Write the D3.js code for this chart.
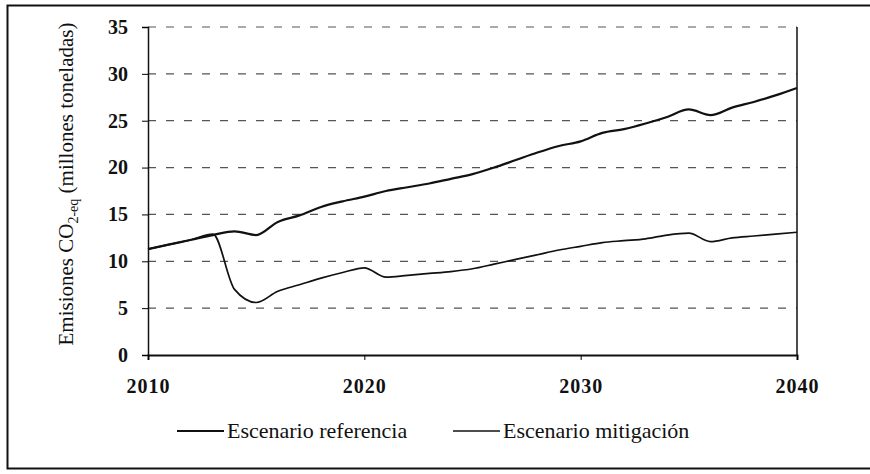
<!DOCTYPE html>
<html>
<head>
<meta charset="utf-8">
<script src="https://cdn.jsdelivr.net/npm/d3@7"></script>
<style>
  body { margin: 0; background: #fff; }
  svg text { font-family: "Liberation Serif", "DejaVu Serif", serif; fill: #111; }
</style>
</head>
<body>
<svg id="chart"></svg>
<script>
const years = d3.range(2010, 2041);
const referencia = [11.3, 11.8, 12.3, 12.8, 13.2, 12.8, 14.2, 14.9, 15.8, 16.4, 16.9,
  17.5, 17.9, 18.3, 18.8, 19.3, 20.0, 20.8, 21.6, 22.3, 22.8,
  23.7, 24.1, 24.7, 25.4, 26.2, 25.6, 26.4, 27.0, 27.7, 28.5];
const mitigacion = [11.3, 11.8, 12.3, 12.9, 7.0, 5.6, 6.8, 7.5, 8.2, 8.8, 9.3,
  8.3, 8.5, 8.7, 8.9, 9.2, 9.7, 10.2, 10.7, 11.2, 11.6,
  12.0, 12.2, 12.4, 12.8, 13.0, 12.1, 12.5, 12.7, 12.9, 13.1];
const yTicks = [0, 5, 10, 15, 20, 25, 30, 35];
const xTicks = [2010, 2020, 2030, 2040];
const legendLabels = ['Escenario referencia', 'Escenario mitigación'];

const width = 870, height = 474;
const svg = d3.select('#chart').attr('width', width).attr('height', height);

// outer frame
svg.append('rect')
  .attr('x', 7.5).attr('y', 5.5)
  .attr('width', 870).attr('height', 463)
  .attr('fill', 'none').attr('stroke', '#111').attr('stroke-width', 2);

const x = d3.scaleLinear().domain([2010, 2040]).range([148, 797]);
const y = d3.scaleLinear().domain([0, 35]).range([355, 27]);

// gridlines
svg.append('g')
  .selectAll('line')
  .data(yTicks.filter(d => d > 0))
  .join('line')
  .attr('x1', x(2010)).attr('x2', x(2040))
  .attr('y1', d => y(d)).attr('y2', d => y(d))
  .attr('stroke', '#555')
  .attr('stroke-width', 1.2)
  .attr('stroke-dasharray', '8,10');

// right edge of plot area
svg.append('line')
  .attr('x1', x(2040)).attr('x2', x(2040))
  .attr('y1', y(35)).attr('y2', y(0))
  .attr('stroke', '#111').attr('stroke-width', 1.5);

const yAxis = svg.append('g')
  .attr('transform', `translate(${x(2010)},0)`)
  .call(d3.axisLeft(y).tickValues(yTicks).tickSize(6).tickPadding(14));
yAxis.select('.domain').attr('stroke', '#111').attr('stroke-width', 1.5);
yAxis.selectAll('text').style('font-size', '20px').style('font-weight', 'bold');

const xAxis = svg.append('g')
  .attr('transform', `translate(0,${y(0)})`)
  .call(d3.axisBottom(x).tickValues(xTicks).tickFormat(d3.format('d')).tickSize(5).tickPadding(19));
xAxis.select('.domain').attr('stroke', '#111').attr('stroke-width', 2);
xAxis.selectAll('text').style('font-size', '20px').style('font-weight', 'bold')
  .style('letter-spacing', '1px');

// y label
const ylab = svg.append('text')
  .attr('transform', 'translate(73,184) rotate(-90)')
  .attr('text-anchor', 'middle')
  .style('font-size', '21px');
ylab.append('tspan').text('Emisiones CO');
ylab.append('tspan').attr('dy', 5).style('font-size', '14px').text('2-eq');
ylab.append('tspan').attr('dy', -5).text(' (millones toneladas)');

const line = d3.line()
  .x((d, i) => x(years[i]))
  .y(d => y(d))
  .curve(d3.curveMonotoneX);

svg.append('path')
  .attr('d', line(mitigacion))
  .attr('fill', 'none').attr('stroke', '#111').attr('stroke-width', 1.7);

svg.append('path')
  .attr('d', line(referencia))
  .attr('fill', 'none').attr('stroke', '#111').attr('stroke-width', 2.2);

// legend
const legend = svg.append('g');
const legendX = [177, 453];
legendLabels.forEach((lab, i) => {
  legend.append('line')
    .attr('x1', legendX[i]).attr('x2', legendX[i] + 47)
    .attr('y1', 431).attr('y2', 431)
    .attr('stroke', '#111').attr('stroke-width', i === 0 ? 2 : 1.4);
  legend.append('text')
    .attr('x', legendX[i] + 50).attr('y', 438)
    .style('font-size', '22px')
    .text(lab);
});
</script>
</body>
</html>
